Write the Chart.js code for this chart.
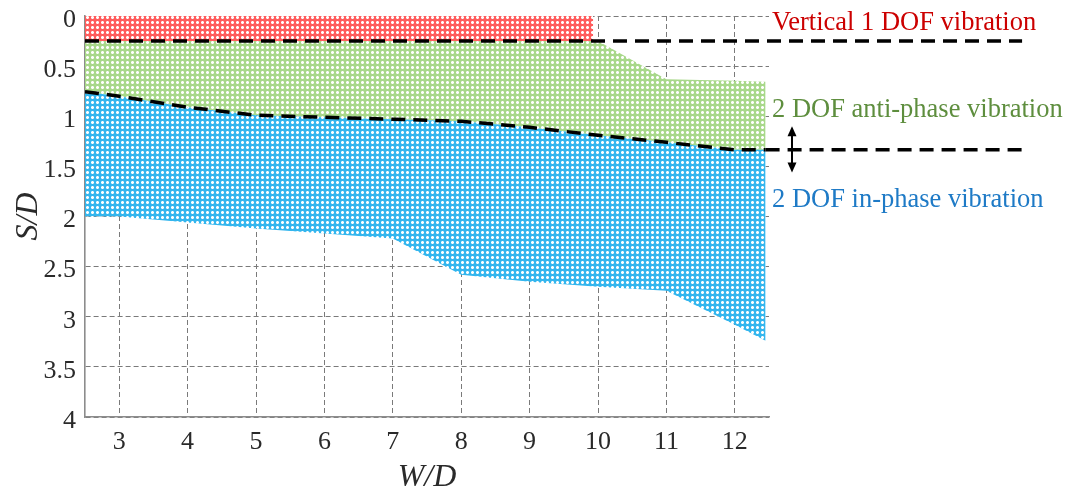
<!DOCTYPE html>
<html><head><meta charset="utf-8">
<style>html,body{margin:0;padding:0;background:#fff}#wrap{width:1073px;height:492px}</style>
<script src="https://cdn.jsdelivr.net/npm/chart.js@4.4.0/dist/chart.umd.min.js"></script>
</head><body><div id="wrap"><canvas id="c" width="1073" height="492"></canvas></div>
<script>
// ---- data ----
const xTicks = [3, 4, 5, 6, 7, 8, 9, 10, 11, 12];
const yTicks = [0, 0.5, 1, 1.5, 2, 2.5, 3, 3.5, 4];
const wd = [2.5, 3, 4, 5, 6, 7, 8, 9, 10, 11, 12, 12.45];
const phaseBoundary = [0.755, 0.80, 0.91, 0.99, 1.01, 1.03, 1.05, 1.11, 1.19, 1.26, 1.335, 1.335];
const antiPhaseTop = [0.25, 0.25, 0.25, 0.25, 0.25, 0.25, 0.25, 0.25, 0.25, 0.63, 0.645, 0.655];
const inPhaseBottom = [2.0, 2.0, 2.06, 2.12, 2.17, 2.22, 2.58, 2.65, 2.70, 2.74, 3.08, 3.24];
const verticalX = [2.5, 9.93];
const verticalBottom = [0.25, 0.25];
const topDashX = [2.5, 16.2];
const topDashY = [0.25, 0.25];
const extDashX = [12.45, 16.2];
const extDashY = [1.335, 1.335];
const regionLabels = ['Vertical 1 DOF vibration', '2 DOF anti-phase vibration', '2 DOF in-phase vibration'];
const regionLabelY = [0.075, 0.94, 1.835];
const regionLabelColors = ['#cc0000', '#5e8e3e', '#1e7ac6'];
const arrowY = [1.10, 1.56];

const zip = (xs, ys) => xs.map((x, i) => ({x: x, y: ys[i]}));

function makePattern(base) {
  const c = document.createElement('canvas'); c.width = 5; c.height = 5;
  const g = c.getContext('2d');
  g.fillStyle = base; g.fillRect(0, 0, 5, 5);
  g.fillStyle = 'rgba(255,255,255,0.55)';
  g.fillRect(1, 1, 3, 3);
  g.fillStyle = '#ffffff';
  g.fillRect(2, 1, 1, 3); g.fillRect(1, 2, 3, 1);
  return g.createPattern(c, 'repeat');
}
const redPat = makePattern('#ff5c5c');
const greenPat = makePattern('#a8d88a');
const bluePat = makePattern('#34b6ee');

const dashLine = {borderColor: '#000', borderWidth: 3.5, borderDash: [14, 8], fill: false, clip: false, pointRadius: 0};
const hidden = {borderColor: 'rgba(0,0,0,0)', borderWidth: 0, pointRadius: 0};

const annot = {
  id: 'annot',
  afterDraw(chart) {
    const {ctx, chartArea, scales} = chart;
    const y = scales.y;
    ctx.save();
    ctx.font = '26.5px "Liberation Serif"';
    ctx.textBaseline = 'middle';
    ctx.textAlign = 'left';
    regionLabels.forEach((t, i) => {
      ctx.fillStyle = regionLabelColors[i];
      ctx.fillText(t, chartArea.right + 3, y.getPixelForValue(regionLabelY[i]));
    });
    const ax = chartArea.right + 23;
    const y1 = y.getPixelForValue(arrowY[0]), y2 = y.getPixelForValue(arrowY[1]);
    ctx.strokeStyle = '#000'; ctx.fillStyle = '#000'; ctx.lineWidth = 2;
    ctx.beginPath(); ctx.moveTo(ax, y1 + 8); ctx.lineTo(ax, y2 - 8); ctx.stroke();
    ctx.beginPath(); ctx.moveTo(ax, y1); ctx.lineTo(ax - 4.5, y1 + 10); ctx.lineTo(ax + 4.5, y1 + 10); ctx.closePath(); ctx.fill();
    ctx.beginPath(); ctx.moveTo(ax, y2); ctx.lineTo(ax - 4.5, y2 - 10); ctx.lineTo(ax + 4.5, y2 - 10); ctx.closePath(); ctx.fill();
    ctx.restore();
  }
};

const tickFont = {family: 'Liberation Serif', size: 26};
const titleFont = {family: 'Liberation Serif', size: 32, style: 'italic', lineHeight: 1.2};

new Chart(document.getElementById('c').getContext('2d'), {
  type: 'line',
  data: {
    datasets: [
      Object.assign({label: 'top', data: zip(topDashX, topDashY)}, dashLine),
      Object.assign({label: 'ext', data: zip(extDashX, extDashY)}, dashLine),
      Object.assign({label: 'inBottom', data: zip(wd, inPhaseBottom), fill: false}, hidden),
      {label: 'phase', data: zip(wd, phaseBoundary), borderColor: '#000', borderWidth: 3.5, borderDash: [14, 8], pointRadius: 0, fill: 2, backgroundColor: bluePat},
      Object.assign({label: 'antiTop', data: zip(wd, antiPhaseTop), fill: 3, backgroundColor: greenPat}, hidden),
      Object.assign({label: 'vertical', data: zip(verticalX, verticalBottom), fill: {value: 0}, backgroundColor: redPat}, hidden)
    ]
  },
  options: {
    responsive: false,
    animation: false,
    devicePixelRatio: 1,
    layout: {padding: {top: 16, right: 304, left: 0, bottom: 0}},
    elements: {line: {tension: 0}, point: {radius: 0}},
    plugins: {legend: {display: false}, tooltip: {enabled: false}},
    scales: {
      x: {
        type: 'linear', min: 2.5, max: 12.5, z: 1,
        afterBuildTicks: s => { s.ticks = xTicks.map(v => ({value: v})); },
        afterFit: s => { s.height = 75; s.paddingLeft = 0; s.paddingRight = 0; },
        grid: {color: '#7a7a7a', lineWidth: 1, drawTicks: false},
        border: {display: true, color: '#8c8c8c', width: 1.6, dash: [5, 3]},
        ticks: {font: tickFont, color: '#2a2a2a', padding: 10, callback: v => String(v)},
        title: {display: true, text: 'W/D', font: titleFont, color: '#2a2a2a', padding: {top: 0, bottom: -5}}
      },
      y: {
        type: 'linear', min: 0, max: 4, reverse: true, z: 1,
        afterBuildTicks: s => { s.ticks = yTicks.map(v => ({value: v})); },
        afterFit: s => { s.width = 85; s.paddingTop = 0; s.paddingBottom = 0; },
        grid: {color: '#7a7a7a', lineWidth: 1, drawTicks: false},
        border: {display: true, color: '#8c8c8c', width: 1.6, dash: [5, 3]},
        ticks: {font: tickFont, color: '#2a2a2a', padding: 9, labelOffset: 4, callback: v => String(v)},
        title: {display: true, text: 'S/D', font: titleFont, color: '#2a2a2a', padding: {top: 9, bottom: 0}}
      }
    }
  },
  plugins: [annot]
});
</script>
</body></html>
